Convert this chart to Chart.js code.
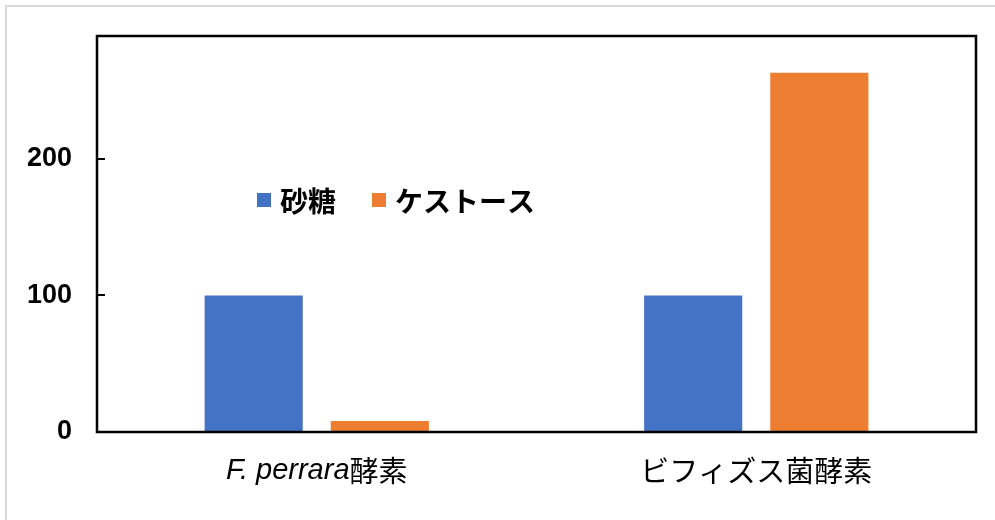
<!DOCTYPE html>
<html>
<head>
<meta charset="utf-8">
<script src="https://cdn.jsdelivr.net/npm/chart.js"></script>
<style>
  html, body { margin: 0; padding: 0; background: #fff; }
  #wrap { width: 995px; height: 520px; position: relative; }
</style>
</head>
<body>
<div id="wrap"><canvas id="graph"></canvas></div>
<script>
// data
const categories = ['F. perrara酵素', 'ビフィズス菌酵素'];
const seriesNames = ['砂糖', 'ケストース'];
const sucrose = [100, 100];
const kestose = [8, 263];
const yTicks = [0, 100, 200];
const yMax = 290;

const seriesColors = ['#4472C4', '#ED7D31'];
const latin = "'Liberation Sans', Arial, 'Noto Sans CJK JP', sans-serif";
const jp = "'Noto Sans CJK JP', 'Liberation Sans', sans-serif";

// frame, inner tick marks, x labels (italic species name) and the legend inside the plot
const decorations = {
  id: 'decorations',
  beforeDraw(chart) {
    const ctx = chart.ctx;
    ctx.save();
    ctx.strokeStyle = '#d9d9d9';
    ctx.lineWidth = 2;
    ctx.beginPath();
    ctx.moveTo(6, chart.height);
    ctx.lineTo(6, 6);
    ctx.lineTo(chart.width, 6);
    ctx.stroke();
    ctx.restore();
  },
  afterDraw(chart) {
    const ctx = chart.ctx;
    const a = chart.chartArea;
    const ys = chart.scales.y;
    const xs = chart.scales.x;
    ctx.save();

    // plot box
    ctx.strokeStyle = '#000';
    ctx.lineWidth = 2.5;
    ctx.strokeRect(a.left, a.top, a.right - a.left, a.bottom - a.top);

    // tick marks pointing inwards
    ctx.lineWidth = 2;
    ys.ticks.forEach(t => {
      const py = Math.round(ys.getPixelForValue(t.value));
      ctx.beginPath();
      ctx.moveTo(a.left, py);
      ctx.lineTo(a.left + 8, py);
      ctx.stroke();
    });

    // category labels
    ctx.fillStyle = '#000';
    ctx.textBaseline = 'middle';
    ctx.textAlign = 'left';
    categories.forEach((lab, i) => {
      const cx = xs.getPixelForTick(i);
      const m = lab.match(/^([A-Za-z.\s]+)(.*)$/);
      const it = m ? m[1] : '';
      const rest = m ? m[2] : lab;
      ctx.font = 'italic 29px ' + latin;
      const w1 = it ? ctx.measureText(it).width : 0;
      ctx.font = '29px ' + jp;
      const w2 = ctx.measureText(rest).width;
      let x0 = cx - (w1 + w2) / 2;
      const y0 = 471;
      if (it) {
        ctx.font = 'italic 29px ' + latin;
        ctx.fillText(it, x0, y0);
      }
      ctx.font = '29px ' + jp;
      ctx.fillText(rest, x0 + w1, y0);
    });

    // legend
    let lx = 257;
    const ly = 200;
    ctx.font = 'bold 28px ' + jp;
    chart.data.datasets.forEach(ds => {
      ctx.fillStyle = ds.backgroundColor;
      ctx.fillRect(lx, ly - 7, 14, 14);
      ctx.fillStyle = '#000';
      ctx.fillText(ds.label, lx + 23, ly + 1);
      lx += 23 + ctx.measureText(ds.label).width + 36;
    });

    ctx.restore();
  }
};

new Chart(document.getElementById('graph'), {
  type: 'bar',
  data: {
    labels: categories,
    datasets: [
      { label: seriesNames[0], data: sucrose, backgroundColor: seriesColors[0] },
      { label: seriesNames[1], data: kestose, backgroundColor: seriesColors[1] }
    ]
  },
  options: {
    responsive: true,
    maintainAspectRatio: false,
    animation: false,
    events: [],
    categoryPercentage: 0.574,
    barPercentage: 0.778,
    layout: { padding: { top: 36, right: 19, left: 0, bottom: 0 } },
    plugins: {
      legend: { display: false },
      tooltip: { enabled: false }
    },
    scales: {
      x: {
        grid: { display: false, drawTicks: false },
        border: { display: false },
        ticks: { display: false },
        afterFit(s) { s.height = 88; s.paddingLeft = 0; s.paddingRight = 0; }
      },
      y: {
        min: 0,
        max: yMax,
        grid: { display: false, drawTicks: false },
        border: { display: false },
        afterBuildTicks(s) { s.ticks = yTicks.map(v => ({ value: v })); },
        afterFit(s) { s.width = 97; s.paddingTop = 0; s.paddingBottom = 0; },
        ticks: {
          padding: 25,
          color: '#000',
          font: { family: latin, size: 27, weight: 'bold' }
        }
      }
    }
  },
  plugins: [decorations]
});
</script>
</body>
</html>
